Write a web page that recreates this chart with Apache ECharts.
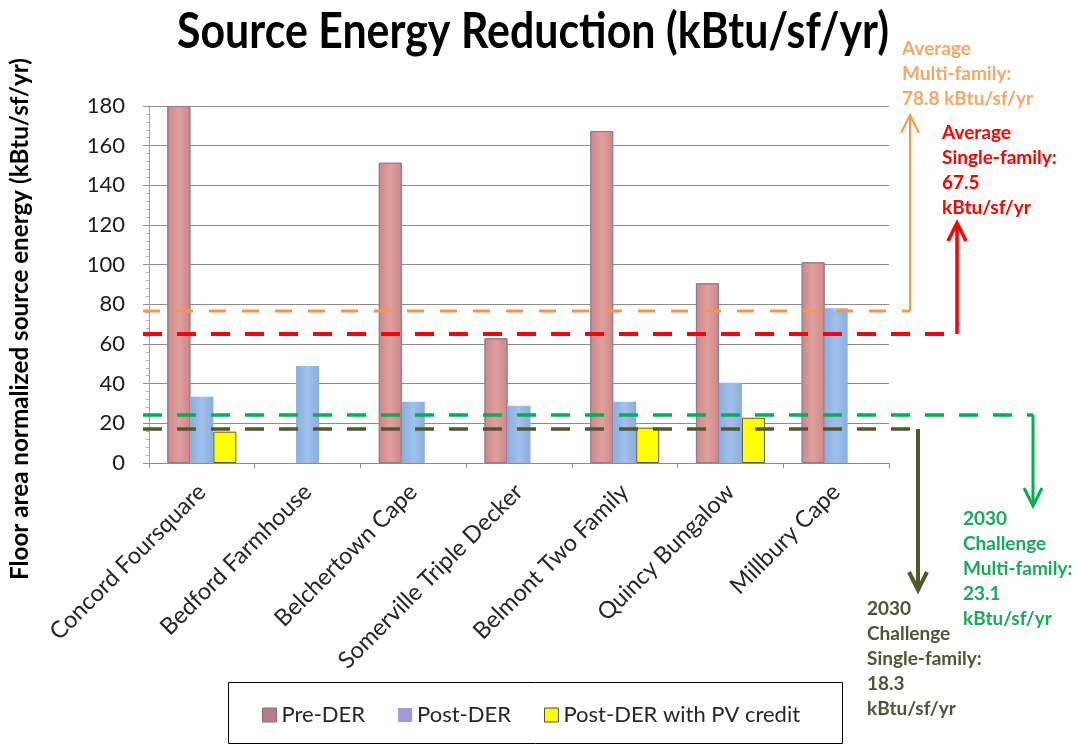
<!DOCTYPE html>
<html><head><meta charset="utf-8">
<script src="https://cdn.jsdelivr.net/npm/echarts@6/dist/echarts.min.js"></script>
<style>html,body{margin:0;padding:0;background:#fff}#c{width:1078px;height:744px}</style>
</head><body><div id="c"></div>
<script>
// ---- data ----
const titleText = 'Source Energy Reduction (kBtu/sf/yr)';
const yAxisName = 'Floor area normalized source energy (kBtu/sf/yr)';
const categories = ['Concord Foursquare','Bedford Farmhouse','Belchertown Cape','Somerville Triple Decker','Belmont Two Family','Quincy Bungalow','Millbury Cape'];
const seriesNames = ['Pre-DER','Post-DER','Post-DER with PV credit'];
const preDER  = [180, null, 151.4, 62.9, 167.4, 90.6, 101.2];
const postDER = [33.4, 48.9, 30.9, 28.9, 30.9, 40.5, 78.0];
const postPV  = [15.8, null, null, null, 17.8, 22.8, null];
const yMin = 0, yMax = 180, yStep = 20;
// reference lines (as drawn) and their notes
const refValues = [76.6, 65.2, 24.0, 17.0];
const refNotes = [
  'Average\nMulti-family:\n78.8 kBtu/sf/yr',
  'Average\nSingle-family:\n67.5\nkBtu/sf/yr',
  '2030\nChallenge\nMulti-family:\n23.1\nkBtu/sf/yr',
  '2030\nChallenge\nSingle-family:\n18.3\nkBtu/sf/yr'
];

// ---- styles / layout ----
const FONT = 'Lato';
const refStyle = [
  {color:'#F79646', text:'#F5A866', width:3,   dash:[17,16], cornerX:910,  tipY:115, dir:-1, lw:2,   noteX:902, noteY:36},
  {color:'#FF0000', text:'#FF0000', width:4,   dash:[19,15], cornerX:957,  tipY:223, dir:-1, lw:3.5, noteX:942, noteY:120},
  {color:'#00B050', text:'#1AA85A', width:3.5, dash:[19,15], cornerX:1033, tipY:506, dir:1,  lw:3,   noteX:963, noteY:506},
  {color:'#4F5A28', text:'#4F5530', width:3.5, dash:[19,15], cornerX:918,  tipY:590, dir:1,  lw:4,   noteX:867, noteY:596}
];
const G = {left:149, right:189, top:106, bottom:281};

const chart = echarts.init(document.getElementById('c'), null, {renderer:'canvas'});

const preGrad = new echarts.graphic.LinearGradient(0,0,1,0,[
  {offset:0,color:'#D08684'},{offset:0.5,color:'#DDA09F'},{offset:1,color:'#D08684'}]);
const postGrad = new echarts.graphic.LinearGradient(0,0,1,0,[
  {offset:0,color:'#88AEE0'},{offset:0.5,color:'#A2C0EA'},{offset:1,color:'#88AEE0'}]);

const option = {
  animation:false,
  backgroundColor:'#fff',
  grid:{left:G.left, right:G.right, top:G.top, bottom:G.bottom, containLabel:false},
  legend:{
    left:262, top:704, itemWidth:14, itemHeight:14, itemGap:33, padding:0,
    icon:'rect',
    textStyle:{fontFamily:FONT, fontSize:22, color:'#262626'},
    data:[
      {name:seriesNames[0], itemStyle:{color:'#B57D88', borderColor:'#9A6A74', borderWidth:1}},
      {name:seriesNames[1], itemStyle:{color:'#9C9CDC', borderWidth:0}},
      {name:seriesNames[2], itemStyle:{color:'#FFFF00', borderColor:'#4F4F20', borderWidth:1}}
    ]
  },
  xAxis:{
    type:'category', data:categories,
    axisLine:{lineStyle:{color:'#8C8C8C', width:1}},
    axisTick:{show:true, length:5, lineStyle:{color:'#8C8C8C'}},
    axisLabel:{rotate:45, interval:0, margin:25, fontFamily:FONT, fontSize:23.5, color:'#262626'}
  },
  yAxis:{
    type:'value', min:yMin, max:yMax, interval:yStep,
    axisLine:{show:true, lineStyle:{color:'#A0A0A0', width:1}},
    axisTick:{show:true, length:6, lineStyle:{color:'#8C8C8C'}},
    minorTick:{show:true, splitNumber:5, length:3, lineStyle:{color:'#B0B0B0'}},
    splitLine:{show:true, lineStyle:{color:'#8C8C8C', width:1}},
    axisLabel:{fontFamily:FONT, fontSize:22, color:'#1A1A1A', margin:24}
  },
  series:[
    {name:seriesNames[0], type:'bar', data:preDER, barWidth:23, barGap:'0%',
     itemStyle:{color:preGrad, borderColor:'#8C7E98', borderWidth:1}},
    {name:seriesNames[1], type:'bar', data:postDER, barWidth:23, barGap:'0%',
     itemStyle:{color:postGrad}},
    {name:seriesNames[2], type:'bar', data:postPV, barWidth:23, barGap:'0%',
     itemStyle:{color:'#FFFF00', borderColor:'#5A5A28', borderWidth:1}}
  ]
};
chart.setOption(option);

// measure helper
const mc = document.createElement('canvas').getContext('2d');
function textW(font, t){ mc.font = font; return mc.measureText(t).width; }

const graphics = [];
// title (Calibri-like proportions via horizontal scale)
const titleFont = 'bold 50px ' + FONT;
const titleScale = 712 / textW(titleFont, titleText);
graphics.push({type:'text', x:533, y:32, scaleX:titleScale, z:100,
  style:{text:titleText, font:titleFont, fill:'#000', align:'center', verticalAlign:'middle'}});
// y axis name
const ynSize = 522 / textW('bold 1px ' + FONT, yAxisName);
graphics.push({type:'text', x:20, y:319, rotation:Math.PI/2, z:100,
  style:{text:yAxisName, font:'bold ' + ynSize.toFixed(2) + 'px ' + FONT, fill:'#000', align:'center', verticalAlign:'middle'}});
// legend box
graphics.push({type:'rect', shape:{x:228.5, y:682.5, width:614, height:61}, z:1,
  style:{fill:'none', stroke:'#000', lineWidth:1}});

// reference lines from the y axis scale
const x0 = G.left - 6;
refValues.forEach((v, i) => {
  const s = refStyle[i];
  const y = Math.round(chart.convertToPixel({yAxisIndex:0}, v));
  graphics.push({type:'line', z:50, shape:{x1:x0, y1:y, x2:s.cornerX, y2:y},
    style:{stroke:s.color, lineWidth:s.width, lineDash:s.dash}});
  graphics.push({type:'line', z:50, shape:{x1:s.cornerX, y1:y, x2:s.cornerX, y2:s.tipY},
    style:{stroke:s.color, lineWidth:s.lw}});
  graphics.push({type:'polyline', z:50, shape:{points:[[s.cornerX-9, s.tipY - s.dir*18],[s.cornerX, s.tipY],[s.cornerX+9, s.tipY - s.dir*18]]},
    style:{stroke:s.color, lineWidth:s.lw, fill:'none'}});
  graphics.push({type:'text', z:60, x:s.noteX, y:s.noteY,
    style:{text:refNotes[i], font:'bold 19px ' + FONT, fill:s.text, lineHeight:25, align:'left', verticalAlign:'top'}});
});
chart.setOption({graphic:graphics});
</script></body></html>
